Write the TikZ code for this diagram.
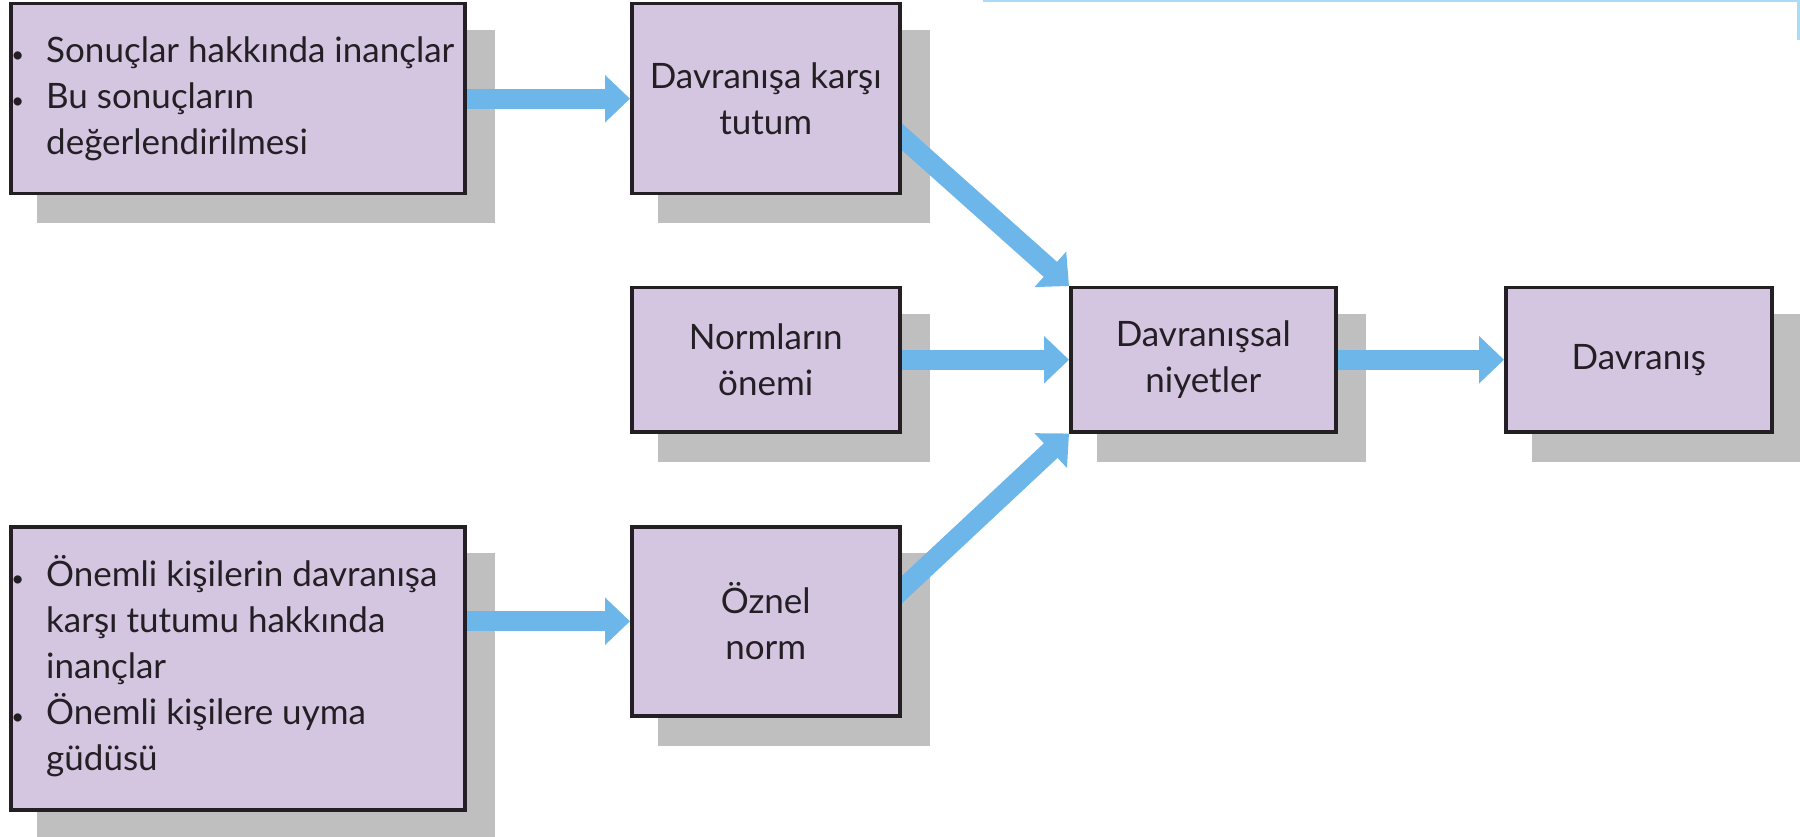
\documentclass[tikz,border=0pt]{standalone}
\usepackage{fontspec}
\setmainfont{Lato}
\usetikzlibrary{arrows.meta}
\definecolor{boxfill}{HTML}{D4C6E0}
\definecolor{arrowblue}{HTML}{6CB6EA}
\definecolor{shade}{HTML}{BFBFBF}
\definecolor{edgeblue}{HTML}{A9DCF6}
\definecolor{ink}{HTML}{231F24}
\pgfdeclarelayer{shadowl}
\pgfdeclarelayer{arrowl}
\pgfsetlayers{shadowl,arrowl,main}
\newcommand\bul{\llap{{\fontsize{22}{22}\selectfont\textbullet}\hspace{22pt}}}
\begin{document}
\begin{tikzpicture}[x=1pt,y=-1pt,
  box/.style={draw=ink, line width=3.5pt, fill=boxfill, rectangle, inner sep=0pt,
    anchor=north west, align=center, text=ink, font=\fontsize{35}{46}\selectfont},
  txt/.style={inner sep=0pt, anchor=west, align=left, text=ink, font=\fontsize{35}{46}\selectfont},
  flow/.style={draw=arrowblue, line width=20pt, -{Triangle[length=25pt,width=46pt]}},
  shadowbox/.style={fill=shade}
]
\begin{pgfonlayer}{shadowl}
\fill[white] (0,0) rectangle (1800,837);
\end{pgfonlayer}
\useasboundingbox (0,0) rectangle (1800,837);

\node[box, minimum width=454pt, minimum height=190pt] (b1) at (9,2) {};
\node[box, minimum width=268pt, minimum height=190pt] (b2) at (630,2) {Davranışa karşı\\tutum};
\node[box, minimum width=268pt, minimum height=144pt] (b3) at (630,286) {Normların\\önemi};
\node[box, minimum width=265pt, minimum height=144pt] (b4) at (1069,286) {Davranışsal\\niyetler};
\node[box, minimum width=266pt, minimum height=144pt] (b5) at (1504,286) {Davranış};
\node[box, minimum width=454pt, minimum height=283pt] (b6) at (9,525) {};
\node[box, minimum width=268pt, minimum height=189pt] (b7) at (630,525) {Öznel\\norm};

\node[txt] (t1) at (46,99) {\bul Sonuçlar hakkında inançlar\\\bul Bu sonuçların\\değerlendirilmesi};
\node[txt] (t6) at (46,666) {\bul Önemli kişilerin davranışa\\karşı tutumu hakkında\\inançlar\\\bul Önemli kişilere uyma\\güdüsü};

\begin{pgfonlayer}{shadowl}
\foreach \n in {b1,b2,b3,b4,b5,b6,b7}
  \fill[shadowbox] ([shift={(28pt,-28pt)}]\n.south west) rectangle ([shift={(28pt,-28pt)}]\n.north east);
\end{pgfonlayer}

\begin{pgfonlayer}{arrowl}
\draw[flow] (b1.center) -- (b2.west);
\draw[flow] ([xshift=-12pt,yshift=-27pt]b2.east) -- (b4.north west);
\draw[flow] (b3.center) -- (b4.west);
\draw[flow] ([xshift=-12pt,yshift=20pt]b7.east) -- (b4.south west);
\draw[flow] (b4.center) -- (b5.west);
\draw[flow] (b6.center |- b7.west) -- (b7.west);
\end{pgfonlayer}

\draw[edgeblue, line width=3pt] (983,1) -- (1798,1) -- (1798,40);
\end{tikzpicture}
\end{document}
